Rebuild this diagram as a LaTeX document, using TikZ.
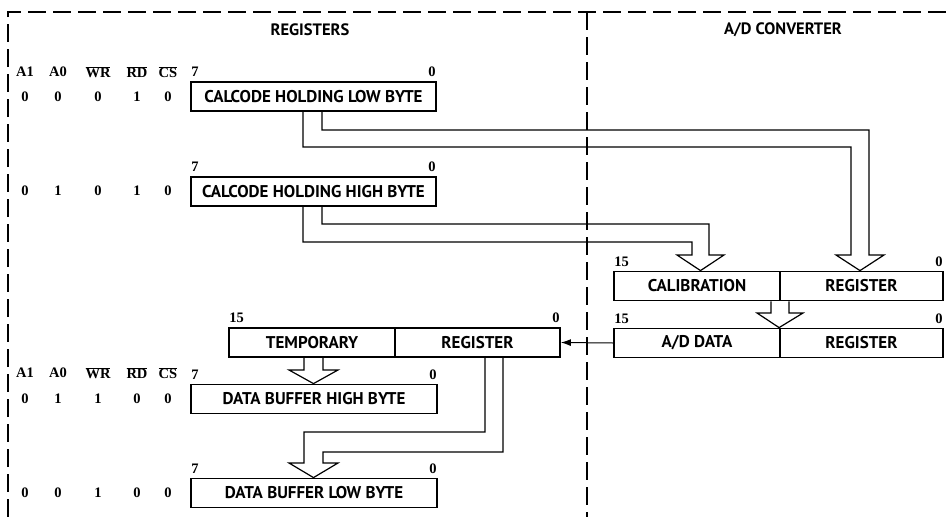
\documentclass[tikz,border=0pt]{standalone}
\usepackage{fontspec}
\setmainfont{Liberation Serif}
\setsansfont{PT Sans}
\usetikzlibrary{arrows.meta}

\newcommand{\barsig}[1]{$\overline{\hbox{#1}}$}

\begin{document}
\begin{tikzpicture}[x=1pt, y=-1pt,
  reg/.style={draw, line width=1.8pt, inner sep=0pt, minimum height=29pt,
    font=\sffamily\bfseries\fontsize{17}{19}\selectfont},
  bit/.style={inner sep=0pt, font=\bfseries\fontsize{14.5}{16}\selectfont},
  idx/.style={inner sep=1pt, yshift=3pt, font=\bfseries\fontsize{14.5}{16}\selectfont},
  title/.style={font=\sffamily\bfseries\fontsize{16.5}{18}\selectfont},
  frame/.style={line width=1.2pt, dash pattern=on 18pt off 7pt},
  fat/.style={line width=1.2pt, line join=miter},
  bus/.style={line width=1pt, -{Latex[length=10pt,width=7pt]}}]

\useasboundingbox (0,0) rectangle (951,517);

% frame
\draw[frame] (8,517) -- (8,12) -- (951,12);
\draw[frame] (587,12) -- (587,517);

\node[title](tregs) at (310,30) {REGISTERS};
\node[title](tadc) at (783,30) {A/D CONVERTER};

% control lines, upper block
\node[bit](h1a1) at (25,72) {A1};
\node[bit](h1a0) at (58,72) {A0};
\node[bit](h1wr) at (98,72) {\barsig{WR}};
\node[bit](h1rd) at (137,72) {\barsig{RD}};
\node[bit](h1cs) at (168,72) {\barsig{CS}};

\node[bit](v1a1) at (25,97) {0};
\node[bit](v1a0) at (58,97) {0};
\node[bit](v1wr) at (98,97) {0};
\node[bit](v1rd) at (137,97) {1};
\node[bit](v1cs) at (168,97) {0};

\node[bit](v2a1) at (25,191) {0};
\node[bit](v2a0) at (58,191) {1};
\node[bit](v2wr) at (98,191) {0};
\node[bit](v2rd) at (137,191) {1};
\node[bit](v2cs) at (168,191) {0};

% control lines, lower block
\node[bit](h3a1) at (25,373) {A1};
\node[bit](h3a0) at (58,373) {A0};
\node[bit](h3wr) at (98,373) {\barsig{WR}};
\node[bit](h3rd) at (137,373) {\barsig{RD}};
\node[bit](h3cs) at (168,373) {\barsig{CS}};

\node[bit](v3a1) at (25,399) {0};
\node[bit](v3a0) at (58,399) {1};
\node[bit](v3wr) at (98,399) {1};
\node[bit](v3rd) at (137,399) {0};
\node[bit](v3cs) at (168,399) {0};

\node[bit](v4a1) at (25,493) {0};
\node[bit](v4a0) at (58,493) {0};
\node[bit](v4wr) at (98,493) {1};
\node[bit](v4rd) at (137,493) {0};
\node[bit](v4cs) at (168,493) {0};

% registers
\node(lowcal)[reg, minimum width=245pt] at (313.5,96.5) {CALCODE HOLDING LOW BYTE};
\node(highcal)[reg, minimum width=245pt] at (313.5,191.5) {CALCODE HOLDING HIGH BYTE};
\node(calib)[reg, minimum width=166pt] at (697,286) {CALIBRATION};
\node(reg1)[reg, minimum width=163pt] at (861.5,286) {REGISTER};
\node(addata)[reg, minimum width=166pt] at (697,343) {A/D DATA};
\node(reg2)[reg, minimum width=163pt] at (861.5,343) {REGISTER};
\node(temp)[reg, minimum width=166pt] at (312,342.5) {TEMPORARY};
\node(reg3)[reg, minimum width=165pt] at (477.5,342.5) {REGISTER};
\node(dbhigh)[reg, minimum width=246pt] at (314,399) {DATA BUFFER HIGH BYTE};
\node(dblow)[reg, minimum width=246pt] at (314,493) {DATA BUFFER LOW BYTE};

% bit numbers
\node(i1l)[idx, anchor=south west] at (lowcal.north west) {7};
\node(i1r)[idx, anchor=south east] at (lowcal.north east) {0};
\node(i2l)[idx, anchor=south west] at (highcal.north west) {7};
\node(i2r)[idx, anchor=south east] at (highcal.north east) {0};
\node(i3l)[idx, anchor=south west] at (calib.north west) {15};
\node(i3r)[idx, anchor=south east] at (reg1.north east) {0};
\node(i4l)[idx, anchor=south west] at (addata.north west) {15};
\node(i4r)[idx, anchor=south east] at (reg2.north east) {0};
\node(i5l)[idx, anchor=south west] at (temp.north west) {15};
\node(i5r)[idx, anchor=south east] at (reg3.north east) {0};
\node(i6l)[idx, anchor=south west] at (dbhigh.north west) {7};
\node(i6r)[idx, anchor=south east] at (dbhigh.north east) {0};
\node(i7l)[idx, anchor=south west] at (dblow.north west) {7};
\node(i7r)[idx, anchor=south east] at (dblow.north east) {0};

% wide transfer arrows
\draw[fat] (303,0 |- lowcal.south) -- (303,147) -- (851,147) -- (851,255)
  -- (836,255) -- (860,0 |- reg1.north) -- (884,255) -- (869,255)
  -- (869,130) -- (322,130) -- (322,0 |- lowcal.south);
\draw[fat] (303,0 |- highcal.south) -- (303,242) -- (692,242) -- (692,255)
  -- (677,255) -- (700.5,0 |- calib.north) -- (724,255) -- (709,255)
  -- (709,224) -- (322,224) -- (322,0 |- highcal.south);
\draw[fat] (771,0 |- calib.south) -- (771,313) -- (757,313)
  -- (reg2.north west) -- (803,313) -- (789,313) -- (789,0 |- reg1.south);
\draw[fat] (304,0 |- temp.south) -- (304,370) -- (289,370)
  -- (313.5,0 |- dbhigh.north) -- (338,370) -- (323,370) -- (323,0 |- temp.south);
\draw[fat] (485,0 |- reg3.south) -- (485,432) -- (304,432) -- (304,463)
  -- (289,463) -- (313.5,0 |- dblow.north) -- (338,463) -- (323,463)
  -- (323,452) -- (503,452) -- (503,0 |- reg3.south);

\draw[bus] (addata.west) -- (reg3.east);
\end{tikzpicture}
\end{document}
